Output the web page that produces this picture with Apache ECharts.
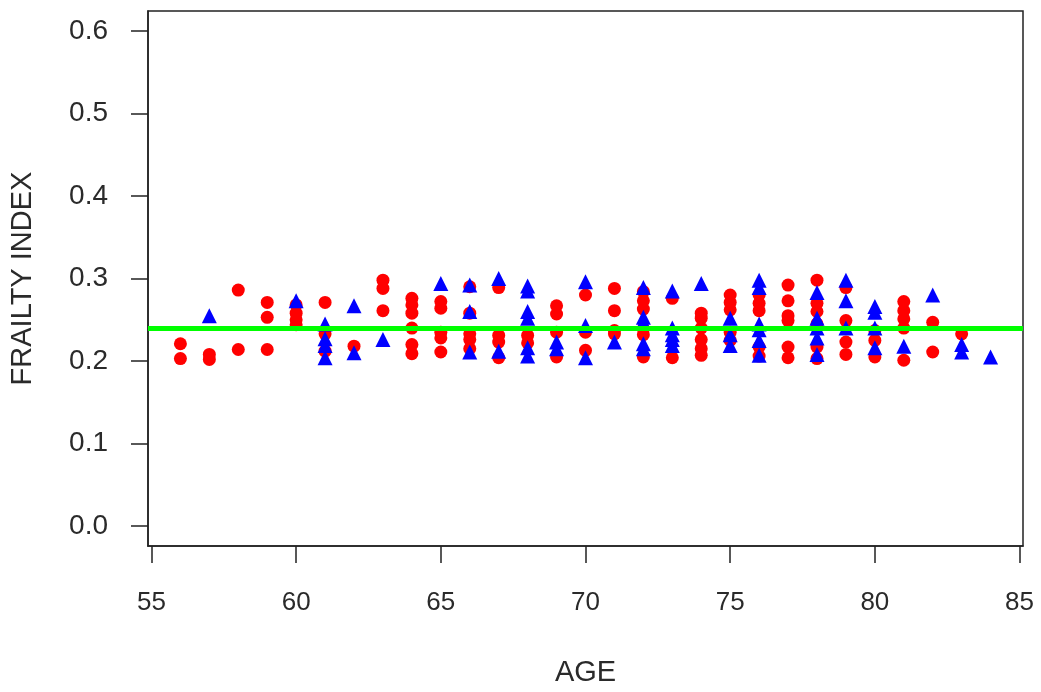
<!DOCTYPE html>
<html>
<head>
<meta charset="utf-8">
<script src="https://cdn.jsdelivr.net/npm/echarts@6/dist/echarts.min.js"></script>
<style>
html,body{margin:0;padding:0;background:#fff;}
#chart{width:1041px;height:692px;}
</style>
</head>
<body>
<div id="chart"></div>
<script>
// Red group (circles)
const redAge = [
  56,56, 57,57, 58,58, 59,59,59, 60,60,60,60, 61,61,61, 62, 63,63,63,
  64,64,64,64,64,64, 65,65,65,65,65, 66,66,66,66,66, 67,67,67,67, 68,68,
  69,69,69,69, 70,70,70, 71,71,71,71, 72,72,72,72,72,72, 73,73,
  74,74,74,74,74,74, 75,75,75,75,75, 76,76,76,76,76, 77,77,77,77,77,77,
  78,78,78,78,78,78, 79,79,79,79, 80,80,80, 81,81,81,81,81, 82,82, 83
];
const redFI = [
  0.221,0.203, 0.208,0.202, 0.286,0.214, 0.271,0.253,0.214, 0.268,0.258,0.250,0.244,
  0.271,0.233,0.212, 0.218, 0.298,0.288,0.261,
  0.276,0.268,0.258,0.240,0.220,0.209, 0.272,0.264,0.235,0.228,0.211,
  0.290,0.258,0.233,0.226,0.215, 0.289,0.231,0.223,0.204, 0.231,0.222,
  0.267,0.257,0.235,0.205, 0.280,0.235,0.213, 0.288,0.261,0.237,0.233,
  0.284,0.273,0.263,0.239,0.232,0.205, 0.276,0.204,
  0.258,0.252,0.240,0.226,0.215,0.207, 0.280,0.271,0.262,0.235,0.225,
  0.280,0.270,0.261,0.217,0.206, 0.292,0.273,0.255,0.249,0.217,0.204,
  0.298,0.270,0.260,0.245,0.217,0.203, 0.289,0.249,0.223,0.208,
  0.237,0.225,0.205, 0.272,0.261,0.251,0.240,0.201, 0.247,0.211, 0.233
];
// Blue group (triangles)
const blueAge = [
  57, 60, 61,61,61,61, 62,62, 63, 65, 66,66,66, 67,67, 68,68,68,68,68,68,
  69,69, 70,70,70, 71, 72,72,72,72,72, 73,73,73,73,73, 74, 75,75,75,
  76,76,76,76,76,76, 78,78,78,78,78, 79,79,79, 80,80,80,80, 81, 82, 83,83, 84
];
const blueFI = [
  0.255, 0.273, 0.245,0.227,0.219,0.204, 0.267,0.210, 0.226, 0.294,
  0.292,0.260,0.211, 0.300,0.212, 0.291,0.285,0.260,0.252,0.216,0.206,
  0.223,0.215, 0.296,0.243,0.204, 0.223, 0.289,0.253,0.247,0.221,0.215,
  0.285,0.240,0.232,0.226,0.219, 0.294, 0.252,0.232,0.219,
  0.298,0.289,0.245,0.238,0.225,0.207, 0.283,0.252,0.240,0.228,0.208,
  0.298,0.273,0.240, 0.266,0.259,0.240,0.216, 0.218, 0.280, 0.220,0.211, 0.205
];
const meanFI = 0.243;
const xTicks = [55, 60, 65, 70, 75, 80, 85];
const yTicks = [0.0, 0.1, 0.2, 0.3, 0.4, 0.5, 0.6];

const zip = (a, b) => a.map((v, i) => [v, b[i]]);
const FONT = '"Liberation Sans", Arial, sans-serif';
const TXT = '#2a2a2a';
const chart = echarts.init(document.getElementById('chart'), null, {renderer: 'canvas'});
chart.setOption({
  animation: false,
  backgroundColor: '#fff',
  grid: {left: 147, right: 18, top: 11, bottom: 143, show: true, borderColor: '#222', borderWidth: 1.5, backgroundColor: 'transparent'},
  xAxis: {
    type: 'value', min: 54.88, max: 85.12,
    name: 'AGE', nameLocation: 'middle', nameGap: 112,
    nameTextStyle: {fontFamily: FONT, fontSize: 29, color: TXT},
    axisLine: {show: true, onZero: false, lineStyle: {color: '#222', width: 1.5}},
    axisTick: {show: true, inside: false, length: 17, customValues: xTicks, lineStyle: {color: '#222', width: 1.5}},
    axisLabel: {customValues: xTicks, margin: 44, fontFamily: FONT, fontSize: 26, color: TXT},
    splitLine: {show: false}
  },
  yAxis: {
    type: 'value', min: -0.024, max: 0.624,
    name: 'FRAILTY INDEX', nameLocation: 'middle', nameGap: 111, nameRotate: 90,
    nameTextStyle: {fontFamily: FONT, fontSize: 29, color: TXT},
    axisLine: {show: true, onZero: false, lineStyle: {color: '#222', width: 1.5}},
    axisTick: {show: true, inside: false, length: 17, customValues: yTicks, lineStyle: {color: '#222', width: 1.5}},
    axisLabel: {customValues: yTicks, margin: 40, fontFamily: FONT, fontSize: 28, color: TXT,
      formatter: v => v.toFixed(1)},
    splitLine: {show: false}
  },
  series: [
    {type: 'scatter', name: 'red', data: zip(redAge, redFI), symbol: 'circle', symbolSize: 13,
      itemStyle: {color: '#ff0000', opacity: 1}, z: 2},
    {type: 'scatter', name: 'blue', data: zip(blueAge, blueFI), symbol: 'triangle', symbolSize: 15,
      itemStyle: {color: '#0000ff', opacity: 1}, z: 3},
    {type: 'line', name: 'mean', data: [], z: 4,
      markLine: {silent: true, symbol: ['none', 'none'], label: {show: false},
        lineStyle: {color: '#00ff00', width: 5, type: 'solid'},
        data: [{yAxis: meanFI}]}}
  ]
});
</script>
</body>
</html>
